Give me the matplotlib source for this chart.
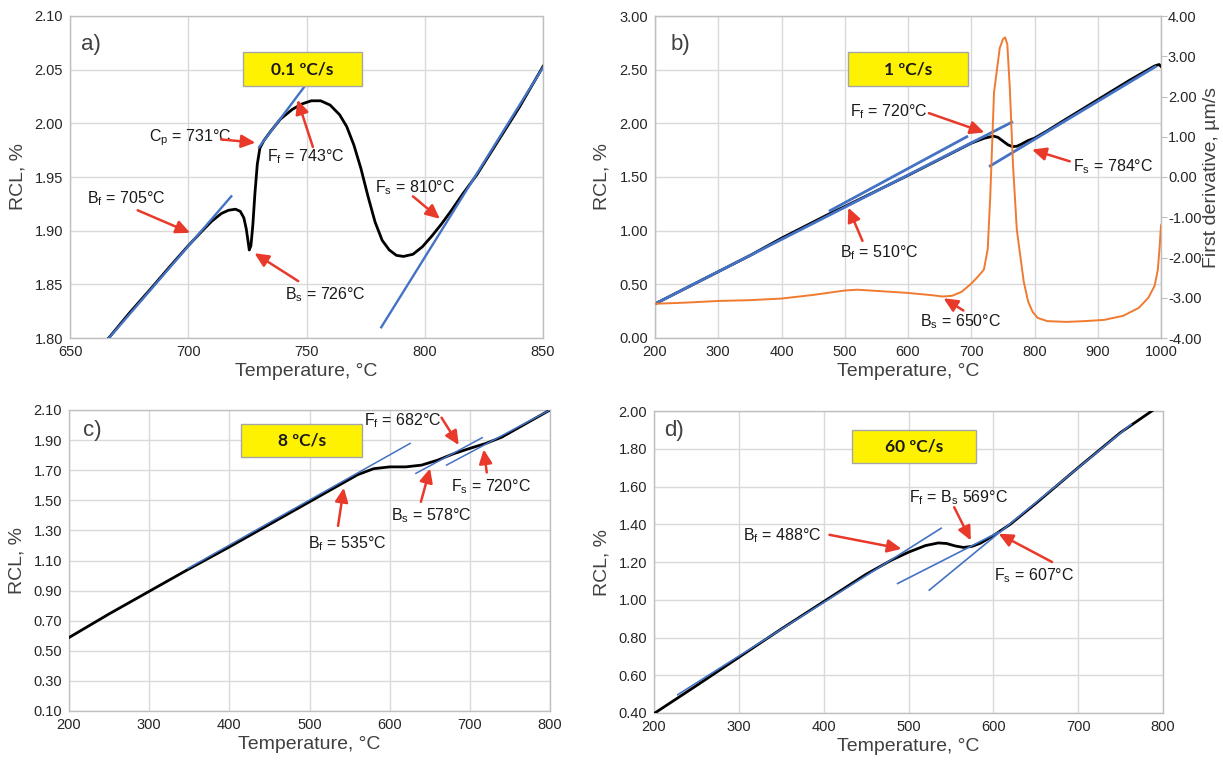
import matplotlib
matplotlib.use('Agg')
import matplotlib.pyplot as plt
from matplotlib import font_manager
from matplotlib.patches import Rectangle
import numpy as np

# ---------------- data ----------------
# panel a) 0.1 C/s
T_a = [666, 675, 685, 692, 700, 706, 710, 714, 717, 720, 722, 723.5, 724.5, 725.3, 725.8, 726.5,
       727.3, 728.2, 729.2, 730.3, 732, 735, 739, 744, 748, 752, 756, 760, 764, 767, 770, 773, 776,
       779, 782, 785, 788, 791, 795, 799, 803, 807, 811, 816, 822, 828, 834, 840, 845, 850]
RCL_a = [1.799, 1.823, 1.848, 1.866, 1.886, 1.900, 1.909, 1.916, 1.919, 1.920, 1.918, 1.912, 1.902,
         1.890, 1.882, 1.886, 1.905, 1.935, 1.962, 1.977, 1.984, 1.993, 2.004, 2.013, 2.018, 2.021,
         2.021, 2.017, 2.008, 1.997, 1.980, 1.958, 1.932, 1.908, 1.891, 1.882, 1.877, 1.876, 1.878,
         1.885, 1.895, 1.906, 1.918, 1.934, 1.952, 1.973, 1.994, 2.015, 2.034, 2.053]
tan_a_x = [(665.7, 718.2), (730.0, 749.4), (781.6, 850.8)]
tan_a_y = [(1.798, 1.932), (1.978, 2.035), (1.810, 2.055)]

# panel b) 1 C/s
T_b = [200, 250, 300, 350, 400, 450, 480, 500, 550, 600, 650, 700, 720, 735, 742, 750, 758, 765,
       772, 780, 790, 800, 820, 850, 900, 950, 990, 997, 1000]
RCL_b = [0.318, 0.468, 0.618, 0.768, 0.930, 1.080, 1.170, 1.225, 1.370, 1.515, 1.665, 1.815, 1.860,
         1.881, 1.870, 1.835, 1.800, 1.783, 1.786, 1.808, 1.840, 1.862, 1.930, 2.040, 2.220, 2.400,
         2.535, 2.548, 2.530]
T_bd = [200, 250, 300, 350, 400, 450, 500, 520, 550, 600, 640, 655, 670, 685, 700, 712, 720, 726,
        730, 736, 745, 750, 753.5, 757, 761, 766, 772, 777, 783, 790, 797, 805, 820, 850, 880, 910,
        940, 965, 980, 990, 995, 998, 1000]
DER_b = [-3.15, -3.12, -3.08, -3.06, -3.02, -2.93, -2.82, -2.80, -2.83, -2.88, -2.94, -2.97, -2.95,
         -2.85, -2.65, -2.45, -2.30, -1.80, -0.50, 2.10, 3.20, 3.42, 3.47, 3.30, 2.20, 0.30, -1.30,
         -1.90, -2.60, -3.10, -3.35, -3.50, -3.58, -3.60, -3.58, -3.55, -3.45, -3.25, -3.00, -2.70,
         -2.30, -1.70, -1.20]
tan_b_x = [(200, 764), (477, 693), (730, 991)]
tan_b_y = [(0.318, 2.010), (1.187, 1.875), (1.603, 2.527)]

# panel c) 8 C/s
T_c = [200, 250, 300, 350, 400, 450, 500, 520, 540, 560, 580, 600, 620, 640, 660, 680, 700, 720,
       740, 760, 780, 800]
RCL_c = [0.588, 0.745, 0.895, 1.045, 1.190, 1.340, 1.490, 1.550, 1.610, 1.670, 1.710, 1.722, 1.722,
         1.734, 1.767, 1.810, 1.845, 1.878, 1.920, 1.980, 2.040, 2.100]
tan_c_x = [(348.2, 625.5), (632.7, 715.4), (671.0, 802.4)]
tan_c_y = [(1.047, 1.878), (1.679, 1.916), (1.734, 2.107)]

# panel d) 60 C/s
T_d = [200, 250, 300, 350, 400, 450, 480, 500, 520, 535, 545, 555, 565, 575, 585, 600, 620, 650,
       700, 750, 790]
RCL_d = [0.397, 0.545, 0.695, 0.845, 0.990, 1.135, 1.210, 1.252, 1.287, 1.301, 1.298, 1.285, 1.277,
         1.283, 1.300, 1.340, 1.400, 1.510, 1.700, 1.886, 2.010]
tan_d_x = [(228, 538.5), (487.2, 606.2), (524.5, 762.6)]
tan_d_y = [(0.497, 1.379), (1.086, 1.358), (1.051, 1.930)]

rates = ['0.1 ºC/s', '1 ºC/s', '8 ºC/s', '60 ºC/s']
panel_labels = ['a)', 'b)', 'c)', 'd)']

# ---------------- style ----------------
names = {f.name for f in font_manager.fontManager.ttflist}
NARROW = 'Liberation Sans Narrow' if 'Liberation Sans Narrow' in names else 'Liberation Sans'
BOXFONT = 'Lato' if 'Lato' in names else 'DejaVu Sans'
plt.rcParams['font.family'] = ['Liberation Sans', 'DejaVu Sans']
plt.rcParams['mathtext.fontset'] = 'custom'
plt.rcParams['mathtext.rm'] = NARROW
plt.rcParams['mathtext.it'] = NARROW

GRID = '#D9D9D9'
SPINE = '#BFBFBF'
BLUE = '#4472C4'
ORANGE = '#F07A30'
RED = '#E8392A'
YELLOW = '#FFF200'
TXT = '#262626'

NOTE_FS = 11.5
LABEL_FS = 13
TICK_FS = 10.5

fig = plt.figure(figsize=(12.23, 7.67), dpi=100)
ax_a = fig.add_axes([70 / 1223, 1 - 338 / 767, 473 / 1223, 322 / 767])
ax_b = fig.add_axes([655 / 1223, 1 - 338 / 767, 506 / 1223, 322 / 767])
ax_c = fig.add_axes([69 / 1223, 1 - 711 / 767, 481 / 1223, 301 / 767])
ax_d = fig.add_axes([654 / 1223, 1 - 713 / 767, 509 / 1223, 302 / 767])


def style(ax, xlim, xstep, ylim, ystep):
    ax.set_xlim(*xlim)
    ax.set_ylim(*ylim)
    ax.set_xticks(np.arange(xlim[0], xlim[1] + 1e-6, xstep))
    ax.set_yticks(np.arange(ylim[0], ylim[1] + 1e-6, ystep))
    ax.yaxis.set_major_formatter(matplotlib.ticker.FormatStrFormatter('%.2f'))
    ax.xaxis.set_major_formatter(matplotlib.ticker.FormatStrFormatter('%d'))
    ax.grid(True, color=GRID, lw=1.0)
    ax.set_axisbelow(True)
    for s in ax.spines.values():
        s.set_color(SPINE)
        s.set_linewidth(1.0)
    ax.tick_params(length=0, labelsize=TICK_FS, colors=TXT, pad=5)
    ax.set_xlabel('Temperature, °C', fontsize=LABEL_FS + 1, family=NARROW, color='#404040',
                  labelpad=3)
    ax.set_ylabel('RCL, %', fontsize=LABEL_FS + 1, family=NARROW, color='#404040', labelpad=6)


def ybox(ax, x0, x1, y0, y1, text):
    ax.add_patch(Rectangle((x0, y0), x1 - x0, y1 - y0, facecolor=YELLOW, edgecolor='#A6A6A6',
                           lw=1.0, zorder=5))
    ax.text((x0 + x1) / 2, (y0 + y1) / 2, text, ha='center', va='center', fontsize=12.5,
            fontweight='bold', family=BOXFONT, color='#1a1a1a', zorder=6)


def note(ax, tx, ty, text, tail, head):
    ax.text(tx, ty, text, ha='center', va='center', fontsize=NOTE_FS, family=NARROW,
            color='#1a1a1a', zorder=7)
    ax.annotate('', xy=head, xytext=tail,
                arrowprops=dict(arrowstyle='-|>,head_length=0.6,head_width=0.28', color=RED,
                                lw=1.8, shrinkA=0, shrinkB=0, mutation_scale=14), zorder=7)


def plab(ax, x, y, t):
    ax.text(x, y, t, ha='center', va='center', fontsize=16, family=NARROW, color='#404040')


# ---- a ----
style(ax_a, (650, 850), 50, (1.80, 2.10), 0.05)
for xs, ys in zip(tan_a_x, tan_a_y):
    ax_a.plot(xs, ys, color=BLUE, lw=1.7, zorder=4)
ax_a.plot(T_a, RCL_a, color='black', lw=2.0, zorder=3)
plab(ax_a, 659, 2.073, panel_labels[0])
ybox(ax_a, 723.2, 773.5, 2.035, 2.066, rates[0])
note(ax_a, 700.7, 1.987, r'C$_\mathrm{p}$ = 731°C', (713.9, 1.985), (728.4, 1.982))
note(ax_a, 749.8, 1.969, r'F$_\mathrm{f}$ = 743°C', (752.7, 1.978), (746.2, 2.022))
note(ax_a, 673.8, 1.930, r'B$_\mathrm{f}$ = 705°C', (678.6, 1.919), (700.8, 1.898))
note(ax_a, 757.9, 1.840, r'B$_\mathrm{s}$ = 726°C', (746.5, 1.853), (728.0, 1.879))
note(ax_a, 795.8, 1.940, r'F$_\mathrm{s}$ = 810°C', (795.0, 1.932), (806.4, 1.911))

# ---- b ----
style(ax_b, (200, 1000), 100, (0.0, 3.0), 0.5)
ax_b.plot(T_b, RCL_b, color='black', lw=2.0, zorder=3)
for xs, ys in zip(tan_b_x, tan_b_y):
    ax_b.plot(xs, ys, color=BLUE, lw=2.0, zorder=4)
plab(ax_b, 240.8, 2.73, panel_labels[1])
ybox(ax_b, 505.6, 694.5, 2.348, 2.66, rates[1])
note(ax_b, 570, 2.11, r'F$_\mathrm{f}$ = 720°C', (633, 2.095), (720.8, 1.915))
note(ax_b, 925, 1.60, r'F$_\mathrm{s}$ = 784°C', (855.7, 1.646), (796, 1.755))
note(ax_b, 554.5, 0.797, r'B$_\mathrm{f}$ = 510°C', (528, 0.905), (505.6, 1.214))
note(ax_b, 683, 0.148, r'B$_\mathrm{s}$ = 650°C', (687.6, 0.256), (656.2, 0.37))
ax_b2 = ax_b.twinx()
ax_b2.set_ylim(-4, 4)
ax_b2.set_yticks(range(-4, 5))
ax_b2.yaxis.set_major_formatter(matplotlib.ticker.FormatStrFormatter('%.2f'))
ax_b2.plot(T_bd, DER_b, color=ORANGE, lw=1.4, zorder=3)
for s in ax_b2.spines.values():
    s.set_color(SPINE)
ax_b2.tick_params(length=4, color=SPINE, labelsize=TICK_FS, labelcolor=TXT, pad=1)
ax_b2.set_ylabel('First derivative, µm/s', fontsize=LABEL_FS + 1, family=NARROW, color='#404040',
                 labelpad=1)

# ---- c ----
style(ax_c, (200, 800), 100, (0.10, 2.10), 0.20)
ax_c.plot(T_c, RCL_c, color='black', lw=2.0, zorder=3)
for xs, ys in zip(tan_c_x, tan_c_y):
    ax_c.plot(xs, ys, color=BLUE, lw=1.1, zorder=4)
plab(ax_c, 228.7, 1.967, panel_labels[2])
ybox(ax_c, 415.1, 565.7, 1.785, 2.007, rates[2])
note(ax_c, 616, 2.027, r'F$_\mathrm{f}$ = 682°C', (664.7, 2.049), (686.2, 1.867))
note(ax_c, 726, 1.59, r'F$_\mathrm{s}$ = 720°C', (721.1, 1.685), (717.3, 1.838))
note(ax_c, 651.8, 1.40, r'B$_\mathrm{s}$ = 578°C', (639, 1.49), (650.4, 1.712))
note(ax_c, 546.6, 1.213, r'B$_\mathrm{f}$ = 535°C', (535.6, 1.33), (542.8, 1.583))

# ---- d ----
style(ax_d, (200, 800), 100, (0.40, 2.00), 0.20)
ax_d.plot(T_d, RCL_d, color='black', lw=2.0, zorder=3)
for xs, ys in zip(tan_d_x, tan_d_y):
    ax_d.plot(xs, ys, color=BLUE, lw=1.2, zorder=4)
plab(ax_d, 223.3, 1.895, panel_labels[3])
ybox(ax_d, 433.4, 579.6, 1.724, 1.898, rates[3])
note(ax_d, 351.7, 1.337, r'B$_\mathrm{f}$ = 488°C', (406.8, 1.344), (491.8, 1.27))
note(ax_d, 559.5, 1.543, r'F$_\mathrm{f}$ = B$_\mathrm{s}$ 569°C', (553.9, 1.49), (573.5, 1.314))
note(ax_d, 648.2, 1.126, r'F$_\mathrm{s}$ = 607°C', (669.2, 1.2), (606.2, 1.35))

fig.savefig('out.png', dpi=100)
